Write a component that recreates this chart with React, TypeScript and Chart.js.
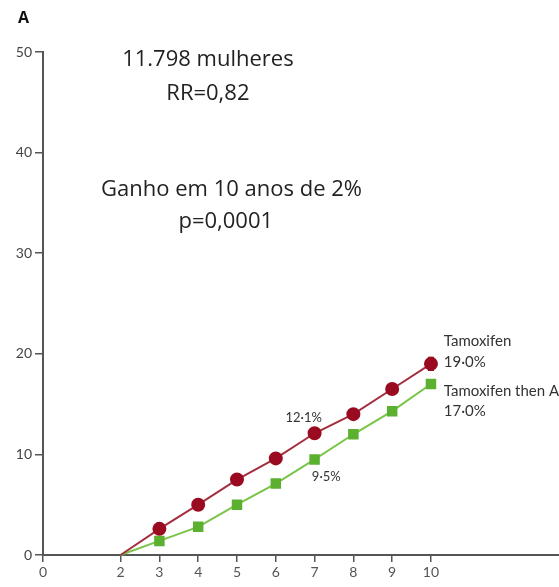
import React, { useEffect, useRef } from "react";
import { Chart, registerables } from "chart.js";

Chart.register(...registerables);

const years = [2, 3, 4, 5, 6, 7, 8, 9, 10];
const tamoxifen = [0, 2.6, 5.0, 7.5, 9.6, 12.1, 14.0, 16.5, 19.0];
const tamoxifenThenAI = [0, 1.4, 2.8, 5.0, 7.1, 9.5, 12.0, 14.3, 17.0];
const tamoxifenErr = [0, 0, 0, 0, 0, 0, 0, 0, 0.6];
const xTicks = [0, 2, 3, 4, 5, 6, 7, 8, 9, 10];
const yTicks = [0, 10, 20, 30, 40, 50];

const RED_LINE = "#a3303f";
const RED_PT = "#9a0a20";
const GREEN_LINE = "#78c548";
const GREEN_PT = "#5cb030";

type Note = { text: string; x: number; y: number; font: string; align: CanvasTextAlign; color: string };

const BIG = "22px 'Open Sans'";
const SMALL = "15px Lato";
const MID = "13px Lato";

const notes: Note[] = [
  { text: "11.798 mulheres", x: 4.25, y: 49.2, font: BIG, align: "center", color: "#222" },
  { text: "RR=0,82", x: 4.25, y: 45.9, font: BIG, align: "center", color: "#222" },
  { text: "Ganho em 10 anos de 2%", x: 4.86, y: 36.3, font: BIG, align: "center", color: "#222" },
  { text: "p=0,0001", x: 4.71, y: 33.1, font: BIG, align: "center", color: "#222" },
  { text: "Tamoxifen", x: 10.33, y: 21.27, font: SMALL, align: "left", color: "#333" },
  { text: "19·0%", x: 10.33, y: 19.18, font: SMALL, align: "left", color: "#333" },
  { text: "Tamoxifen then AI", x: 10.33, y: 16.3, font: SMALL, align: "left", color: "#333" },
  { text: "17·0%", x: 10.33, y: 14.3, font: SMALL, align: "left", color: "#333" },
  { text: "12·1%", x: 7.19, y: 13.6, font: MID, align: "right", color: "#333" },
  { text: "9·5%", x: 6.93, y: 7.75, font: MID, align: "left", color: "#333" },
];

const notesPlugin = {
  id: "notes",
  afterDatasetsDraw(chart: any) {
    const { ctx, scales } = chart;
    const xs = scales.x;
    const ys = scales.y;
    ctx.save();
    ctx.strokeStyle = RED_PT;
    ctx.lineWidth = 2;
    years.forEach((yr, i) => {
      const e = tamoxifenErr[i];
      if (!e) return;
      const px = xs.getPixelForValue(yr);
      const y1 = ys.getPixelForValue(tamoxifen[i] - e);
      const y2 = ys.getPixelForValue(tamoxifen[i] + e);
      ctx.beginPath();
      ctx.moveTo(px, y1);
      ctx.lineTo(px, y2);
      ctx.moveTo(px - 3, y1);
      ctx.lineTo(px + 3, y1);
      ctx.moveTo(px - 3, y2);
      ctx.lineTo(px + 3, y2);
      ctx.stroke();
    });
    ctx.textBaseline = "middle";
    notes.forEach((n) => {
      ctx.font = n.font;
      ctx.fillStyle = n.color;
      ctx.textAlign = n.align;
      ctx.fillText(n.text, xs.getPixelForValue(n.x), ys.getPixelForValue(n.y));
    });
    ctx.font = "bold 16px 'Open Sans'";
    ctx.fillStyle = "#111";
    ctx.textAlign = "left";
    ctx.fillText("A", 18, 18);
    ctx.restore();
  },
};

export default function App() {
  const ref = useRef<HTMLCanvasElement | null>(null);
  useEffect(() => {
    if (!ref.current) return;
    const chart = new Chart(ref.current, {
      type: "line",
      data: {
        datasets: [
          {
            label: "Tamoxifen",
            data: years.map((x, i) => ({ x, y: tamoxifen[i] })),
            borderColor: RED_LINE,
            backgroundColor: RED_PT,
            borderWidth: 2,
            pointStyle: "circle",
            pointRadius: years.map((x) => (x === 2 ? 0 : 6)),
            pointBorderColor: RED_PT,
            pointBackgroundColor: RED_PT,
            clip: false as any,
          },
          {
            label: "Tamoxifen then AI",
            data: years.map((x, i) => ({ x, y: tamoxifenThenAI[i] })),
            borderColor: GREEN_LINE,
            backgroundColor: GREEN_PT,
            borderWidth: 2,
            pointStyle: "rect",
            pointRadius: years.map((x) => (x === 2 ? 0 : 6)),
            pointBorderColor: GREEN_PT,
            pointBackgroundColor: GREEN_PT,
            clip: false as any,
          },
        ],
      },
      options: {
        animation: false,
        responsive: false,
        maintainAspectRatio: false,
        layout: { autoPadding: false, padding: { top: 52, right: 0, left: 0, bottom: 0 } },
        plugins: { legend: { display: false }, tooltip: { enabled: false } },
        scales: {
          x: {
            type: "linear",
            min: 0,
            max: 13.3,
            afterBuildTicks: (s: any) => {
              s.ticks = xTicks.map((v) => ({ value: v }));
            },
            afterFit: (s: any) => {
              s.height = 32;
              s.paddingLeft = 0;
              s.paddingRight = 0;
            },
            grid: { display: true, drawOnChartArea: false, drawTicks: true, tickLength: 7, color: "#555", lineWidth: 1.5 },
            border: { display: true, color: "#555", width: 2 },
            ticks: { color: "#555", font: { family: "Lato", size: 14 }, padding: 2, autoSkip: false, maxRotation: 0 },
          },
          y: {
            type: "linear",
            min: 0,
            max: 50,
            afterBuildTicks: (s: any) => {
              s.ticks = yTicks.map((v) => ({ value: v }));
            },
            afterFit: (s: any) => {
              s.width = 43;
              s.paddingTop = 0;
              s.paddingBottom = 0;
            },
            grid: { display: true, drawOnChartArea: false, drawTicks: true, tickLength: 8, color: "#555", lineWidth: 1.5 },
            border: { display: true, color: "#555", width: 2 },
            ticks: { color: "#444", font: { family: "Lato", size: 14 }, padding: 3 },
          },
        },
      },
      plugins: [notesPlugin],
    });
    return () => chart.destroy();
  }, []);
  return (
    <div style={{ position: "fixed", left: 0, top: 0, width: 559, height: 587, background: "#fff" }}>
      <canvas ref={ref} width={559} height={587} style={{ width: 559, height: 587, display: "block" }} />
    </div>
  );
}
